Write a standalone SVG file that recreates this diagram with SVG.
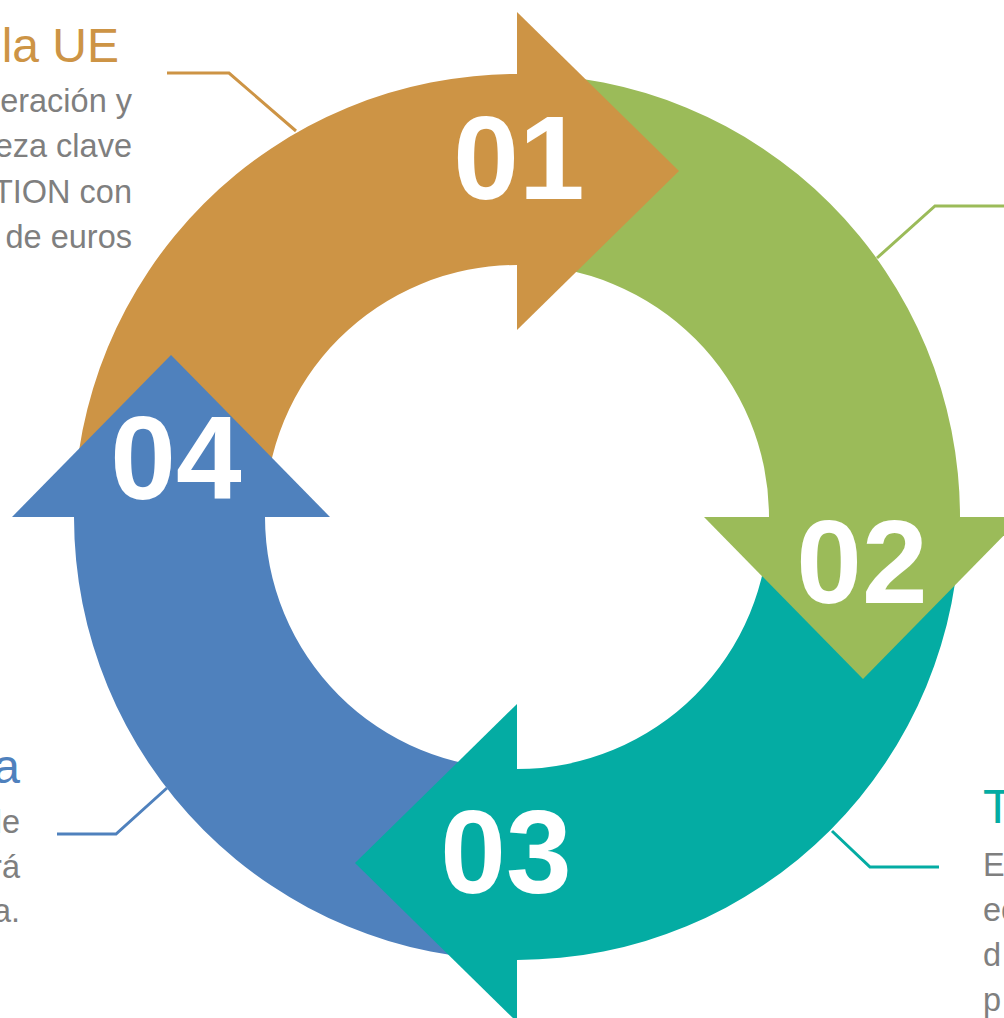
<svg xmlns="http://www.w3.org/2000/svg" width="1004" height="1018" viewBox="0 0 1004 1018">
  <style>
    .num { font-family: "Liberation Sans", Arial, sans-serif; font-weight: bold; font-size: 118px; fill: #FFFFFF; text-anchor: middle; }
    .title { font-family: "Liberation Sans", Arial, sans-serif; font-size: 48px; }
    .body { font-family: "Liberation Sans", Arial, sans-serif; font-size: 32.5px; fill: #7F7F7F; }
    .lead { fill: none; stroke-width: 3; stroke-linejoin: miter; }
    .c1 { fill: #CD9445; }
    .c2 { fill: #9BBB59; }
    .c3 { fill: #04ACA3; }
    .c4 { fill: #4F81BD; }
  </style>
  <rect width="1004" height="1018" fill="#FFFFFF"/>

  <!-- ring bodies -->
  <g id="bodies">
    <path class="c1" d="M 74 517 A 443 443 0 0 1 517 74 L 517 265 A 252 252 0 0 0 265 517 Z"/>
    <path class="c2" d="M 517 74 A 443 443 0 0 1 960 517 L 769 517 A 252 252 0 0 0 517 265 Z"/>
    <path class="c3" d="M 960 517 A 443 443 0 0 1 517 960 L 517 769 A 252 252 0 0 0 769 517 Z"/>
    <path class="c4" d="M 517 960 A 443 443 0 0 1 74 517 L 265 517 A 252 252 0 0 0 517 769 Z"/>
  </g>

  <!-- leader lines -->
  <g id="connectors">
    <polyline class="lead" stroke="#CD9445" points="167,73 229,73 296,131"/>
    <polyline class="lead" stroke="#9BBB59" points="877,258 935,206 1010,206"/>
    <polyline class="lead" stroke="#04ACA3" points="832,831 870,867 939,867"/>
    <polyline class="lead" stroke="#4F81BD" points="57,834 116,834 167,788"/>
  </g>

  <g id="node-01">
    <path class="c1" d="M 517 12 L 679 171 L 517 330 Z"/>
    <text class="num" x="519" y="199">01</text>
    <text class="title" x="119" y="62" fill="#CD9445" text-anchor="end">la UE</text>
    <text class="body" x="132" y="112" text-anchor="end">eración y</text>
    <text class="body" x="132" y="157" text-anchor="end">eza clave</text>
    <text class="body" x="132" y="203" text-anchor="end">TION con</text>
    <text class="body" x="132" y="248" text-anchor="end">de euros</text>
  </g>

  <g id="node-02">
    <path class="c2" d="M 704 517 L 863 679 L 1022 517 Z"/>
    <text class="num" x="862" y="603">02</text>
  </g>

  <g id="node-03">
    <path class="c3" d="M 517 704 L 355 863 L 517 1022 Z"/>
    <text class="num" x="506" y="893">03</text>
    <text class="title" x="983" y="823" fill="#04ACA3">T</text>
    <text class="body" x="983" y="876">El</text>
    <text class="body" x="983" y="921">ec</text>
    <text class="body" x="983" y="966">d</text>
    <text class="body" x="983" y="1011">p</text>
  </g>

  <g id="node-04">
    <path class="c4" d="M 12 517 L 171 355 L 330 517 Z"/>
    <text class="num" x="176" y="499">04</text>
    <text class="title" x="20" y="783" fill="#4F81BD" text-anchor="end">a</text>
    <text class="body" x="20" y="833" text-anchor="end">le</text>
    <text class="body" x="20" y="878" text-anchor="end">rá</text>
    <text class="body" x="20" y="922" text-anchor="end">a.</text>
  </g>
</svg>
